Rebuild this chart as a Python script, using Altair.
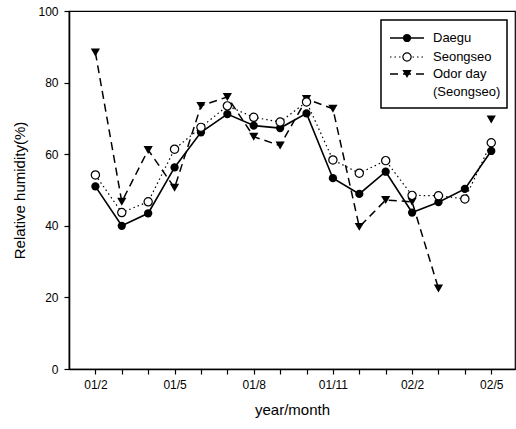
import altair as alt
import pandas as pd

months = ["01/2", "01/3", "01/4", "01/5", "01/6", "01/7", "01/8", "01/9",
          "01/10", "01/11", "01/12", "02/1", "02/2", "02/3", "02/4", "02/5"]
daegu = [51.0, 40.0, 43.5, 56.3, 66.1, 71.2, 68.0, 67.3, 71.4, 53.3, 48.9, 55.1, 43.7, 46.6, 50.3, 60.9]
seongseo = [54.2, 43.7, 46.7, 61.4, 67.5, 73.5, 70.3, 69.0, 74.6, 58.4, 54.7, 58.2, 48.5, 48.4, 47.5, 63.2]
odor = [88.4, 46.7, 61.2, 50.6, 73.5, 76.0, 64.9, 62.4, 75.4, 72.7, 39.7, 47.2, 46.7, 22.5, None, 69.7]
series_names = ["Daegu", "Seongseo", "Odor day"]

FONT = "Liberation Sans"

def frame(vals):
    rows = []
    seg = 0
    for i, (m, v) in enumerate(zip(months, vals)):
        if v is None:
            seg += 1
            continue
        rows.append({"idx": i, "month": m, "value": v, "seg": seg})
    return pd.DataFrame(rows)

label_arr = "[" + ",".join("'" + m + "'" for m in months) + "]"
label_expr = "(datum.value % 3 == 0) ? " + label_arr + "[datum.value] : ''"

x_enc = alt.X("idx:Q",
              scale=alt.Scale(domain=[-1, 15.9], nice=False, zero=False),
              axis=alt.Axis(values=list(range(len(months))),
                            labelExpr=label_expr,
                            title="year/month", grid=False, tickSize=5,
                            labelPadding=5, titlePadding=12))
y_enc = alt.Y("value:Q",
              scale=alt.Scale(domain=[0, 100], nice=False),
              axis=alt.Axis(values=[0, 20, 40, 60, 80, 100], title="Relative humidity(%)",
                            grid=False, tickSize=5, labelPadding=6, titlePadding=10))

d_df = frame(daegu)
s_df = frame(seongseo)
o_df = frame(odor)

TRI = 85
CIR = 68

odor_line = alt.Chart(o_df).mark_line(color="black", strokeWidth=1.5, strokeDash=[8, 5]).encode(
    x=x_enc, y=y_enc, detail="seg:N")
odor_pts = alt.Chart(o_df).mark_point(shape="triangle-down", filled=True, color="black",
                                      size=TRI, opacity=1).encode(x=x_enc, y=y_enc)
s_line = alt.Chart(s_df).mark_line(color="black", strokeWidth=1.2, strokeDash=[1.5, 3]).encode(
    x=x_enc, y=y_enc)
s_pts = alt.Chart(s_df).mark_point(shape="circle", filled=True, fill="white", stroke="black",
                                   strokeWidth=1.2, size=CIR, opacity=1).encode(x=x_enc, y=y_enc)
d_line = alt.Chart(d_df).mark_line(color="black", strokeWidth=1.6).encode(x=x_enc, y=y_enc)
d_pts = alt.Chart(d_df).mark_point(shape="circle", filled=True, color="black",
                                   size=CIR, opacity=1).encode(x=x_enc, y=y_enc)

# legend (decoration)
one = pd.DataFrame({"a": [0]})
leg_box = alt.Chart(one).mark_rect(fill="white", stroke="black", strokeWidth=1.5).encode(
    x=alt.value(312), x2=alt.value(438), y=alt.value(9), y2=alt.value(97))
leg_layers = [leg_box]
rows_y = [27, 46, 63]
dashes = [[1, 0], [1.5, 3], [8, 5]]
widths = [1.6, 1.2, 1.5]
for i, name in enumerate(series_names):
    yy = rows_y[i]
    leg_layers.append(alt.Chart(one).mark_rule(color="black", strokeWidth=widths[i],
                                               strokeDash=dashes[i]).encode(
        x=alt.value(321), x2=alt.value(355), y=alt.value(yy)))
    if i == 0:
        pt = alt.Chart(one).mark_point(shape="circle", filled=True, color="black", size=CIR, opacity=1)
    elif i == 1:
        pt = alt.Chart(one).mark_point(shape="circle", filled=True, fill="white", stroke="black",
                                       strokeWidth=1.2, size=CIR, opacity=1)
    else:
        pt = alt.Chart(one).mark_point(shape="triangle-down", filled=True, color="black", size=TRI, opacity=1)
    leg_layers.append(pt.encode(x=alt.value(338), y=alt.value(yy)))
    leg_layers.append(alt.Chart(one).mark_text(align="left", baseline="middle", fontSize=13,
                                               font=FONT, color="black").encode(
        x=alt.value(364), y=alt.value(yy), text=alt.value(name)))
leg_layers.append(alt.Chart(one).mark_text(align="left", baseline="middle", fontSize=13,
                                           font=FONT, color="black").encode(
    x=alt.value(364), y=alt.value(81), text=alt.value("(Seongseo)")))

chart = alt.layer(odor_line, s_line, d_line, odor_pts, d_pts, s_pts, *leg_layers).properties(
    width=446, height=358,
    padding={"left": 69, "top": 11, "right": 1, "bottom": 59},
    autosize=alt.AutoSizeParams(type="none"),
    background="white",
).configure_view(stroke="black", strokeWidth=1.2).configure_axis(
    domainColor="black", domainWidth=1.6, tickColor="black", tickWidth=1.2,
    labelColor="black", titleColor="black", labelFont=FONT, titleFont=FONT,
    labelFontSize=12, titleFontSize=15, titleFontWeight="normal",
)

chart.save("out.html", embed_options={"renderer": "svg", "actions": False})
